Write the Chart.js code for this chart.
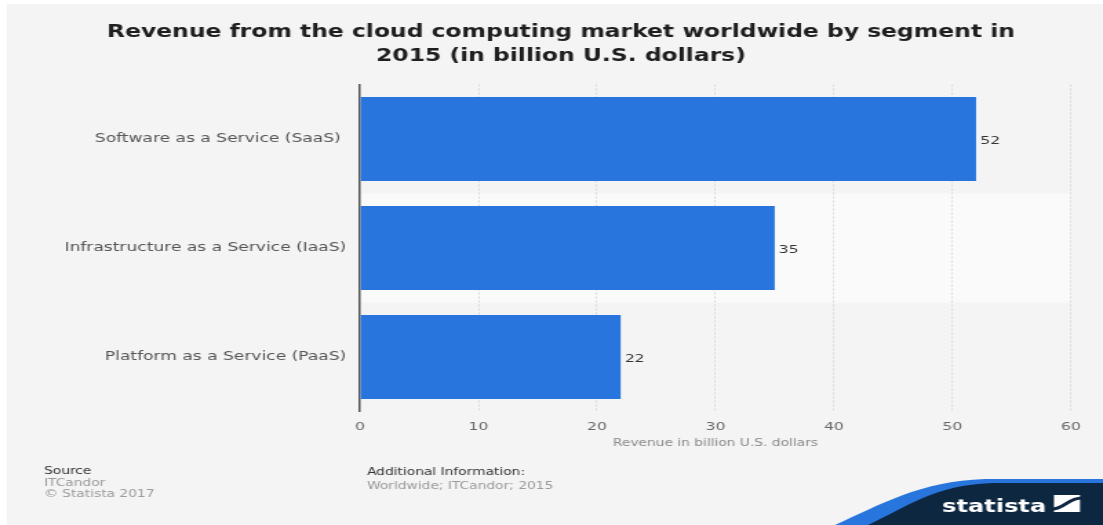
<!DOCTYPE html>
<html><head><meta charset="utf-8">
<script src="https://cdn.jsdelivr.net/npm/chart.js@4/dist/chart.umd.min.js"></script>
<style>html,body{margin:0;padding:0;background:#fff;overflow:hidden}
canvas{display:block}</style>
</head><body>
<canvas id="c" width="800" height="525" style="width:1103px;height:525px"></canvas>
<script>
// ---- data ----
const categories = ['Software as a Service (SaaS) ', 'Infrastructure as a Service (IaaS)', 'Platform as a Service (PaaS)'];
const revenue = [52, 35, 22];
const xTickValues = [0, 10, 20, 30, 40, 50, 60];
const titleLines = ['Revenue from the cloud computing market worldwide by segment in', '2015 (in billion U.S. dollars)'];
const axisTitle = 'Revenue in billion U.S. dollars';
const sourceLines = ['Source', 'ITCandor', '\u00A9 Statista 2017'];
const infoLines = ['Additional Information:', 'Worldwide; ITCandor; 2015'];
const brand = 'statista';

// the reference is horizontally stretched: canvas drawn at 800 wide, shown at 1103
const SX = 1103 / 800;
const FONT = '"DejaVu Sans", Verdana, sans-serif';

const decor = {
  id: 'decor',
  beforeDraw(chart) {
    const {ctx, chartArea: a} = chart;
    ctx.save();
    ctx.fillStyle = '#ffffff';
    ctx.fillRect(0, 0, chart.width, chart.height);
    ctx.fillStyle = '#f4f4f4';
    ctx.fillRect(7 / SX, 4, chart.width, chart.height);
    const y = chart.scales.y;
    const step = y.getPixelForValue(1) - y.getPixelForValue(0);
    const c = y.getPixelForValue(1);
    ctx.fillStyle = '#fafafa';
    ctx.fillRect(a.left, c - step / 2, a.right - a.left, step);
    ctx.restore();
  },
  afterDatasetsDraw(chart) {
    const {ctx} = chart;
    const meta = chart.getDatasetMeta(0);
    ctx.save();
    ctx.font = '11.3px ' + FONT;
    ctx.fillStyle = '#333333';
    ctx.textAlign = 'left';
    ctx.textBaseline = 'middle';
    meta.data.forEach((el, i) => {
      ctx.fillText(String(revenue[i]), el.x + 3, el.y + 2);
    });
    ctx.restore();
  },
  afterDraw(chart) {
    const {ctx} = chart;
    ctx.save();
    ctx.textAlign = 'left';
    ctx.textBaseline = 'middle';
    // source block
    const sx = 44 / SX;
    const sy = [471, 483, 494.5];
    sourceLines.forEach((t, i) => {
      ctx.font = '10px ' + FONT;
      ctx.fillStyle = i === 0 ? '#333333' : '#9a9a9a';
      ctx.fillText(t, sx, sy[i]);
    });
    const ix = 367 / SX;
    const iy = [472.5, 486.5];
    infoLines.forEach((t, i) => {
      ctx.font = '10px ' + FONT;
      ctx.fillStyle = i === 0 ? '#333333' : '#9a9a9a';
      ctx.fillText(t, ix, iy[i]);
    });
    // logo band
    const X = v => v / SX;
    ctx.fillStyle = '#2876dd';
    ctx.beginPath();
    ctx.moveTo(X(835), 525);
    ctx.bezierCurveTo(X(880), 505, X(920), 481, X(985), 479);
    ctx.lineTo(X(1103), 479);
    ctx.lineTo(X(1103), 525);
    ctx.closePath();
    ctx.fill();
    ctx.fillStyle = '#0d2740';
    ctx.beginPath();
    ctx.moveTo(X(868), 525);
    ctx.bezierCurveTo(X(905), 508, X(935), 484, X(995), 483);
    ctx.lineTo(X(1103), 483);
    ctx.lineTo(X(1103), 525);
    ctx.closePath();
    ctx.fill();
    ctx.fillStyle = '#ffffff';
    ctx.font = 'bold 17.5px ' + FONT;
    ctx.textBaseline = 'alphabetic';
    ctx.fillText(brand, X(942), 512);
    // icon
    ctx.fillRect(X(1054), 495, X(1080) - X(1054), 17);
    ctx.strokeStyle = '#0d2740';
    ctx.lineWidth = 3;
    ctx.beginPath();
    ctx.moveTo(X(1052), 509);
    ctx.bezierCurveTo(X(1064), 509, X(1068), 498, X(1082), 498);
    ctx.stroke();
    ctx.restore();
  }
};

new Chart(document.getElementById('c'), {
  type: 'bar',
  data: {
    labels: categories,
    datasets: [{
      data: revenue,
      backgroundColor: '#2876dd',
      borderWidth: 0,
      categoryPercentage: 1.0,
      barPercentage: 0.77
    }]
  },
  options: {
    indexAxis: 'y',
    responsive: false,
    animation: false,
    devicePixelRatio: 1,
    layout: {padding: {left: 37, right: 23.3, top: 4, bottom: 68.5}},
    plugins: {
      legend: {display: false},
      tooltip: {enabled: false},
      title: {
        display: true,
        text: titleLines,
        color: '#1e1e1e',
        font: {family: FONT, size: 17, weight: 'bold', lineHeight: 24 / 17},
        padding: {top: 17, bottom: 15.5}
      }
    },
    scales: {
      x: {
        min: 0, max: 60,
        afterBuildTicks(scale) { scale.ticks = xTickValues.map(v => ({value: v})); },
        afterFit(scale) { scale.height = 45; },
        grid: {
          color: ctx => (ctx.tick && ctx.tick.value === 0) ? 'rgba(0,0,0,0)' : '#d8d8d8',
          lineWidth: 1,
          drawTicks: false
        },
        border: {display: false, dash: [2, 2]},
        ticks: {color: '#666666', padding: 8.5, font: {family: FONT, size: 11.3}},
        title: {
          display: true,
          text: axisTitle,
          color: '#8a8a8a',
          font: {family: FONT, size: 10, lineHeight: 1.2},
          padding: {top: 0, bottom: 7.5}
        }
      },
      y: {
        afterFit(scale) { scale.width = 261.1 - 37; },
        grid: {display: false, drawTicks: false},
        border: {display: true, color: '#555555', width: 1.5},
        ticks: {color: '#555555', padding: 10, font: {family: FONT, size: 12.4}}
      }
    }
  },
  plugins: [decor]
});
</script>
</body></html>
